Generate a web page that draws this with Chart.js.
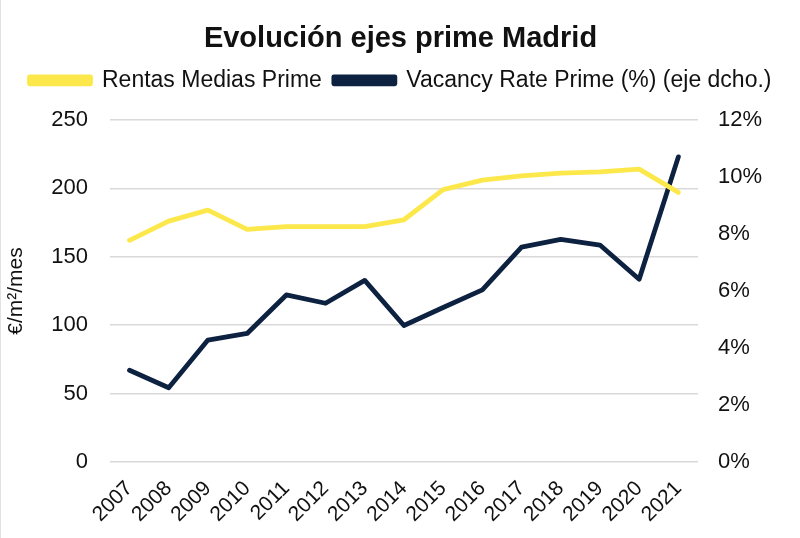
<!DOCTYPE html>
<html>
<head>
<meta charset="utf-8">
<script src="https://cdn.jsdelivr.net/npm/chart.js@4.4.1/dist/chart.umd.min.js"></script>
<style>
html,body{margin:0;padding:0;background:#fff;}
#wrap{width:799px;height:538px;position:relative;border-left:1px solid #e2e2e2;}
</style>
</head>
<body>
<div id="wrap"><canvas id="c" width="799" height="538"></canvas></div>
<script>
const years = ['2007','2008','2009','2010','2011','2012','2013','2014','2015','2016','2017','2018','2019','2020','2021'];
const rentas = [162,176,184,170,172,172,172,177,199,206,209,211,212,214,197];
const vacancy = [3.22,2.61,4.28,4.51,5.86,5.57,6.37,4.79,5.42,6.04,7.54,7.81,7.61,6.41,10.70];
const leftTicks = [0,50,100,150,200,250];
const rightTicks = [0,2,4,6,8,10,12];

const FONT = '"Liberation Sans", Arial, sans-serif';
Chart.defaults.font.family = FONT;
Chart.defaults.color = '#1a1a1a';

const legendMargin = {
  id: 'legendMargin',
  beforeInit(chart) {
    const orig = chart.legend.fit;
    chart.legend.fit = function () { orig.bind(this)(); this.height += 18; };
  }
};

new Chart(document.getElementById('c'), {
  type: 'line',
  plugins: [legendMargin],
  data: {
    labels: years,
    datasets: [
      {label: 'Rentas Medias Prime', data: rentas, yAxisID: 'y',
       borderColor: '#FDE84B', backgroundColor: '#FDE84B', borderWidth: 4.8,
       pointRadius: 0, tension: 0, borderCapStyle: 'round', borderJoinStyle: 'round'},
      {label: 'Vacancy Rate Prime (%) (eje dcho.)', data: vacancy, yAxisID: 'y1',
       borderColor: '#0D2140', backgroundColor: '#0D2140', borderWidth: 4.8,
       pointRadius: 0, tension: 0, borderCapStyle: 'round', borderJoinStyle: 'round'}
    ]
  },
  options: {
    responsive: false,
    animation: false,
    layout: {padding: {left: 0, right: 0, top: 6, bottom: 0}},
    plugins: {
      title: {display: true, text: 'Evolución ejes prime Madrid',
        font: {size: 29, weight: 'bold', family: FONT}, color: '#111',
        padding: {top: 16, bottom: 0}},
      legend: {display: true, position: 'top',
        labels: {boxWidth: 61, boxHeight: 7, padding: 12,
          font: {size: 23, family: FONT}, color: '#111'}},
      tooltip: {enabled: false}
    },
    scales: {
      x: {
        offset: true,
        grid: {display: false, drawTicks: false, offset: true},
        border: {display: false},
        afterFit: a => { a.height -= 3; },
        ticks: {autoSkip: false, maxRotation: 45, minRotation: 45, font: {size: 21}, color: '#111', padding: 14}
      },
      y: {
        position: 'left', min: 0, max: 250,
        afterBuildTicks: a => { a.ticks = leftTicks.map(v => ({value: v})); },
        grid: {color: '#d9d9d9', lineWidth: 1.5, drawTicks: false},
        border: {display: false},
        ticks: {font: {size: 22}, color: '#111', padding: 22},
        title: {display: true, text: '€/m²/mes', font: {size: 21}, color: '#111', padding: {top: 3, bottom: 0}}
      },
      y1: {
        position: 'right', min: 0, max: 12,
        afterBuildTicks: a => { a.ticks = rightTicks.map(v => ({value: v})); },
        afterFit: a => { a.width += 18; },
        grid: {display: false, drawTicks: false},
        border: {display: false},
        ticks: {font: {size: 22}, color: '#111', padding: 20, callback: v => v + '%'}
      }
    }
  }
});
</script>
</body>
</html>
